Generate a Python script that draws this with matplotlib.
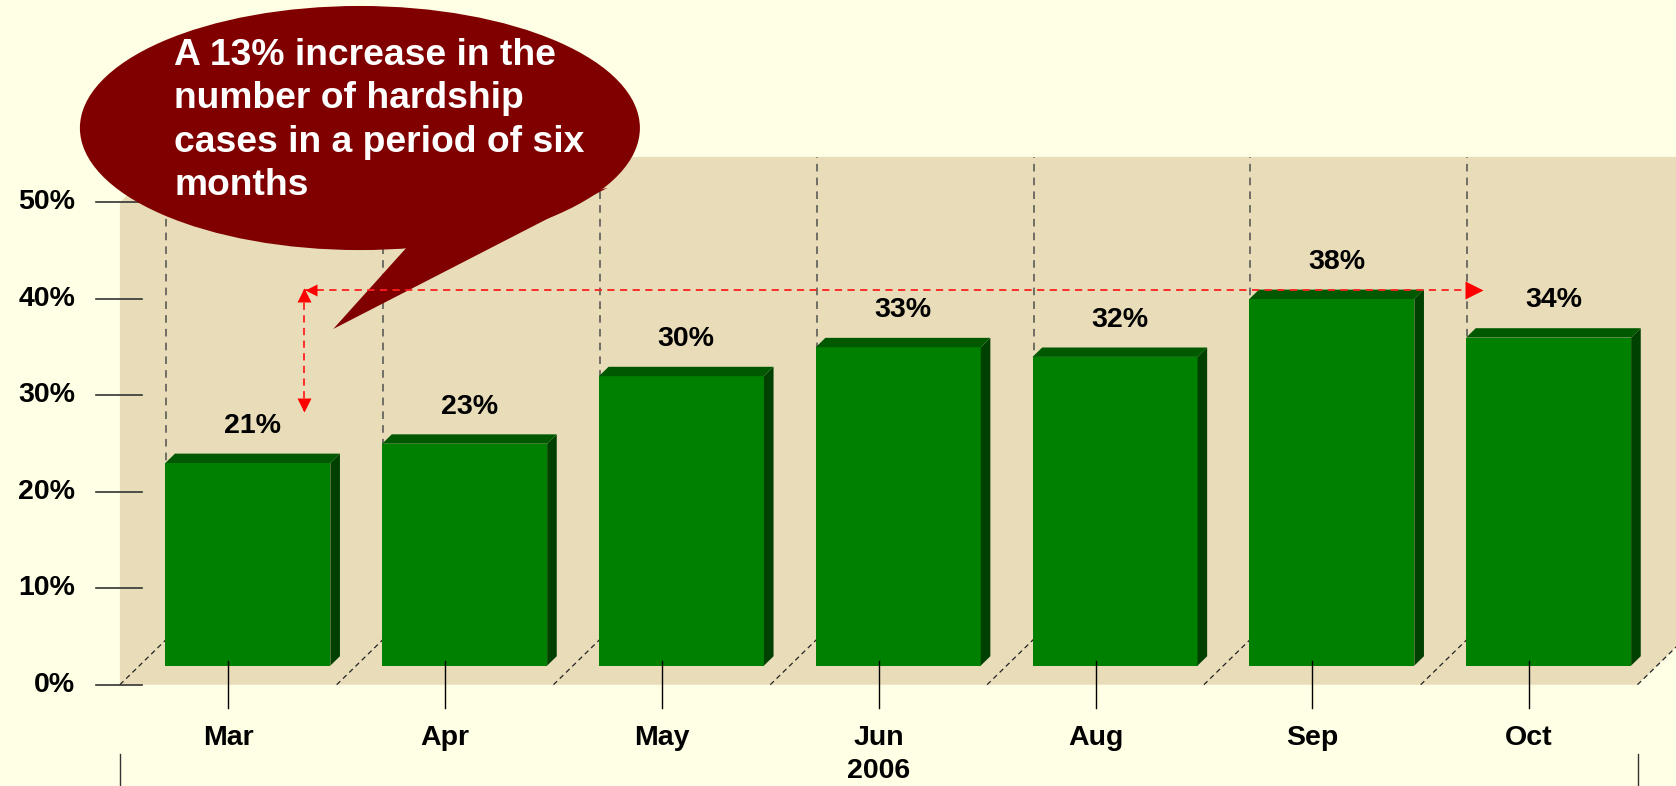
import numpy as np
import matplotlib
matplotlib.use('Agg')
from matplotlib import pyplot as plt
from matplotlib.patches import Polygon, Ellipse

# chart data
months = ['Mar', 'Apr', 'May', 'Jun', 'Aug', 'Sep', 'Oct']
values = [21, 23, 30, 33, 32, 38, 34]
value_labels = ['21%', '23%', '30%', '33%', '32%', '38%', '34%']
y_ticks = [0, 10, 20, 30, 40, 50]
y_tick_labels = ['0%', '10%', '20%', '30%', '40%', '50%']
year_label = '2006'
year_under = 'Jun'
callout_lines = ['A 13% increase in the', 'number of hardship',
                 'cases in a period of six', 'months']

plt.rcParams['font.family'] = ['Liberation Sans', 'DejaVu Sans']
plt.rcParams['font.weight'] = 'bold'

W, H, DPI = 1676, 786, 100
fig = plt.figure(figsize=(W / DPI, H / DPI), dpi=DPI)
fig.patch.set_facecolor('#ffffe6')
ax = fig.add_axes([0, 0, 1, 1])
ax.set_facecolor('none')
ax.axis('off')

# front plane layout in pixels: first category centre, 0% line, scale
x0_px, y0_px = 228.3, 684.7
cat_px, pct_px = 216.8, 9.648
ax.set_xlim(-x0_px / cat_px, (W - x0_px) / cat_px)
ax.set_ylim((y0_px - H) / pct_px, y0_px / pct_px)

n = len(months)
x = np.arange(n)
left, right = -0.5, n - 0.5
top = y_ticks[-1]
# depth of the 3d box (category units, percent units)
dx, dy = 46.5 / cat_px, 45.4 / pct_px

tan = '#e8dcb9'
ax.add_patch(Polygon([(left, 0), (right, 0), (right + dx, dy), (right + dx, top + dy),
                      (left + dx, top + dy), (left, top)],
                     closed=True, facecolor=tan, edgecolor='none', zorder=1))

# dashed grid on the back wall and floor
for k in range(n + 1):
    ax.plot([left + k + dx] * 2, [dy, top + dy], color='#505050', lw=1.1,
            ls=(0, (5, 4)), zorder=2)
    ax.plot([left + k, left + k + dx], [0, dy], color='#222222', lw=0.9,
            ls=(0, (4, 3)), zorder=2)

fs = 20.5

# y axis ticks on the front plane
for t, lab in zip(y_ticks, y_tick_labels):
    ax.plot([-0.609, -0.398], [t, t], color='#333333', lw=1.2, zorder=2)
    ax.text(-0.707, t, lab, ha='right', va='center', fontsize=fs, color='black')

# 3d bars
bw = 0.761
f_dx, f_dy = 0.42 * dx, 0.42 * dy      # front face sits inside the box
b_dx, b_dy = 0.207 * dx, 0.207 * dy    # bar depth
ax.bar(x + f_dx, values, width=bw, bottom=f_dy, color='#008000', zorder=4)
for i, v in enumerate(values):
    xl = i + f_dx - bw / 2
    xr = i + f_dx + bw / 2
    yt = f_dy + v
    ax.add_patch(Polygon([(xr, f_dy), (xr + b_dx, f_dy + b_dy), (xr + b_dx, yt + b_dy), (xr, yt)],
                         closed=True, facecolor='#004000', edgecolor='none', zorder=4))
    ax.add_patch(Polygon([(xl, yt), (xr, yt), (xr + b_dx, yt + b_dy), (xl + b_dx, yt + b_dy)],
                         closed=True, facecolor='#005800', edgecolor='none', zorder=4))
    ax.annotate(value_labels[i], xy=(i + f_dx + b_dx / 2, yt + b_dy), xytext=(0, 20),
                textcoords='offset points', ha='center', va='center', fontsize=fs)

# category ticks and labels
for i, m in enumerate(months):
    ax.plot([i, i], [2.46, -2.41], color='black', lw=1, zorder=5)
    ax.text(i, -5.48, m, ha='center', va='center', fontsize=fs)
    if m == year_under:
        ax.text(i, -8.93, year_label, ha='center', va='center', fontsize=fs)

ybot = ax.get_ylim()[0]
for xe in (left, right):
    ax.plot([xe, xe], [-7.2, ybot], color='#333333', lw=1, zorder=2)

# callout bubble
red_dark = '#800000'
ax.add_patch(Ellipse((0.607, 57.7), 2.583, 25.3, facecolor=red_dark, edgecolor='none', zorder=6))
ax.add_patch(Polygon([(0.87, 46.5), (0.484, 36.87), (1.75, 51.5)],
                     closed=True, facecolor=red_dark, edgecolor='none', zorder=6))
for j, line in enumerate(callout_lines):
    ax.text(-0.25, 64.23 - 4.49 * j, line, ha='left', va='baseline', fontsize=26.8,
            color='white', zorder=7)

# red dashed arrows: Mar level up to the Sep peak and across to Oct
arrow_x = 0.35
peak = max(values) + f_dy + b_dy
end_x = n - 1.5 + dx
low = 28.4
red = '#ff2020'
ax.plot([arrow_x, arrow_x], [peak, low], color=red, lw=1.3, ls=(0, (4, 3)), zorder=8)
ax.plot([arrow_x, end_x], [peak, peak], color=red, lw=1.3, ls=(0, (4, 3)), zorder=8)
ax.plot([end_x + 0.03], [peak], marker='>', color='red', ms=13, zorder=8, mec='none')
ax.plot([arrow_x], [low + 0.6], marker='v', color='red', ms=10, zorder=8, mec='none')
ax.plot([arrow_x], [peak - 0.6], marker='^', color='red', ms=10, zorder=8, mec='none')
ax.plot([arrow_x + 0.03], [peak], marker='<', color='red', ms=9, zorder=8, mec='none')

plt.savefig('out.png', dpi=DPI, facecolor=fig.get_facecolor())
